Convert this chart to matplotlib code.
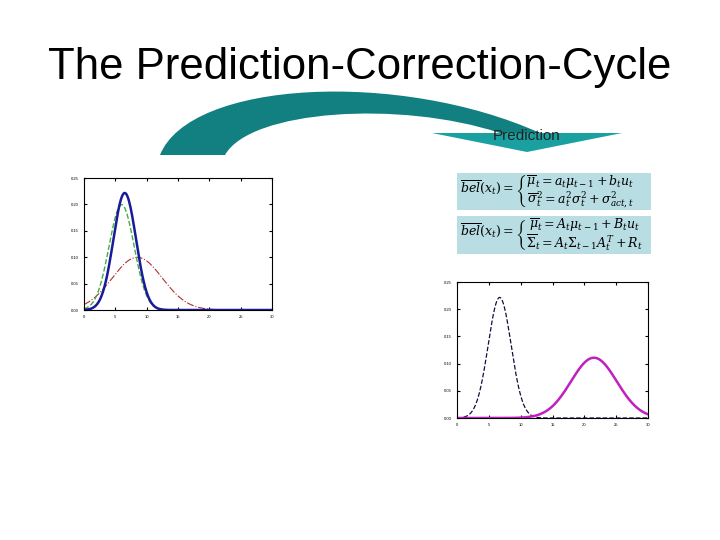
import numpy as np
import matplotlib.pyplot as plt
from matplotlib.path import Path
from matplotlib.patches import PathPatch, Polygon

plt.rcParams['font.family'] = ["Liberation Sans", "DejaVu Sans"]

# gaussian parameters: (mean, sigma)
left_curves = {"blue": (6.5, 1.8), "green": (6.0, 2.0), "red": (8.5, 4.0)}
right_curves = {"black": (6.7, 1.8), "magenta": (21.5, 3.6)}
xticks = [0, 5, 10, 15, 20, 25, 30]
yticks = [0, 0.05, 0.1, 0.15, 0.2, 0.25]

def gauss(x, m, s):
    return np.exp(-0.5 * ((x - m) / s) ** 2) / (s * np.sqrt(2 * np.pi))

W, H = 720, 540
fig = plt.figure(figsize=(7.2, 5.4), dpi=100)
fig.text(0.5, 1 - 68 / H, "The Prediction-Correction-Cycle", ha="center", va="center", fontsize=31.5)

# curved arrow, in pixel coords converted to figure fraction
def fp(pts):
    return [(x / W, 1 - y / H) for x, y in pts]

verts = fp([(160, 155), (190, 80), (400, 70), (540, 133),
            (500, 133), (400, 100), (250, 110), (225, 155), (160, 155)])
codes = [Path.MOVETO, Path.CURVE4, Path.CURVE4, Path.CURVE4,
         Path.LINETO, Path.CURVE4, Path.CURVE4, Path.CURVE4, Path.CLOSEPOLY]
fig.patches.append(PathPatch(Path(verts, codes), transform=fig.transFigure,
                             facecolor="#128080", edgecolor="none"))
fig.patches.append(Polygon(fp([(432, 133), (622, 133), (527, 152)]), closed=True,
                           transform=fig.transFigure, facecolor="#1aa0a0", edgecolor="none"))
fig.text(527 / W, 1 - 136 / H, "Prediction", ha="center", va="center", fontsize=11, color="#222222")

def style(ax):
    ax.set_xlim(0, 30)
    ax.set_ylim(0, 0.25)
    ax.set_xticks(xticks)
    ax.set_yticks(yticks)
    ax.tick_params(labelsize=3, length=2, direction="in", top=True, right=True)
    for s in ax.spines.values():
        s.set_linewidth(0.8)

x = np.linspace(0, 30, 400)
ax1 = fig.add_axes([84 / W, 1 - 310 / H, 188 / W, 132 / H])
m, s = left_curves["red"]
ax1.plot(x, gauss(x, m, s), "-.", color="#b03030", lw=0.8)
m, s = left_curves["green"]
ax1.plot(x, gauss(x, m, s), "--", color="#40b040", lw=1)
m, s = left_curves["blue"]
ax1.plot(x, gauss(x, m, s), "-", color="#1a1a9a", lw=1.8)
style(ax1)

ax2 = fig.add_axes([457 / W, 1 - 418 / H, 191 / W, 136 / H])
m, s = right_curves["black"]
ax2.plot(x, gauss(x, m, s), "--", color="#101040", lw=0.9)
m, s = right_curves["magenta"]
ax2.plot(x, gauss(x, m, s), "-", color="#c020c0", lw=1.8)
style(ax2)

# equation boxes
eq1 = (r"$\overline{bel}(x_t) = \left\{ \genfrac{}{}{0}{0}{\overline{\mu}_t = a_t\mu_{t-1} + b_t u_t}"
       r"{\overline{\sigma}_t^2 = a_t^2\sigma_t^2 + \sigma_{act,t}^2} \right.$")
eq2 = (r"$\overline{bel}(x_t) = \left\{ \genfrac{}{}{0}{0}{\overline{\mu}_t = A_t\mu_{t-1} + B_t u_t}"
       r"{\overline{\Sigma}_t = A_t\Sigma_{t-1}A_t^T + R_t} \right.$")
for eq, (y0, y1) in [(eq1, (173, 210)), (eq2, (216, 254))]:
    fig.patches.append(Polygon(fp([(457, y0), (651, y0), (651, y1), (457, y1)]), closed=True,
                               transform=fig.transFigure, facecolor="#b8dde3", edgecolor="none"))
    fig.text(460 / W, 1 - (y0 + y1) / 2 / H, eq, ha="left", va="center", fontsize=9,
             math_fontfamily="dejavuserif")

fig.savefig("out.png", dpi=100)
